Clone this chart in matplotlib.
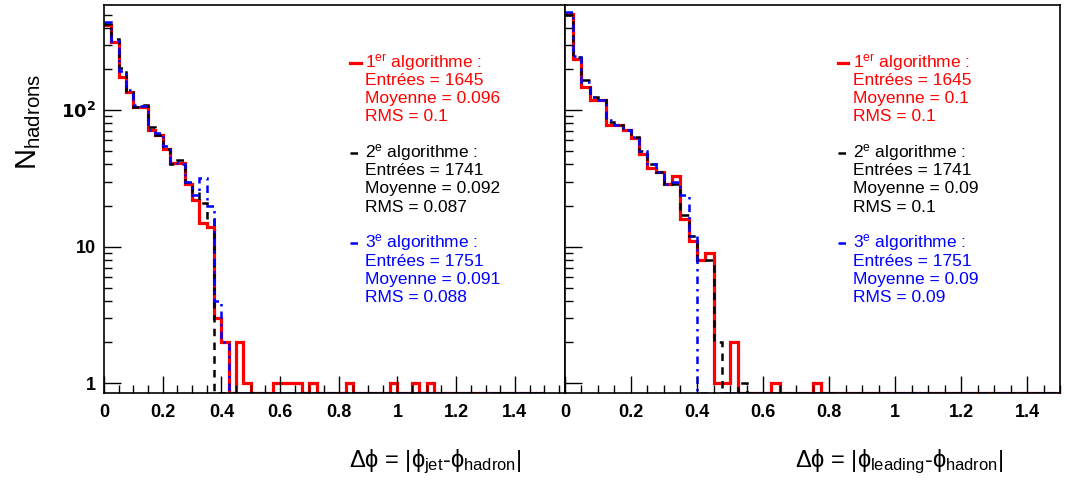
import numpy as np
import matplotlib
matplotlib.use("Agg")
import matplotlib.pyplot as plt
from matplotlib.lines import Line2D
from matplotlib.ticker import FixedLocator, NullFormatter, MultipleLocator

plt.rcParams["font.family"] = ["Liberation Sans", "DejaVu Sans"]
plt.rcParams["mathtext.fontset"] = "custom"
plt.rcParams["mathtext.rm"] = "Liberation Sans"
plt.rcParams["mathtext.it"] = "Liberation Sans"

# ---------------------- données (bins de 0.025) ----------------------
bin_width = 0.025
n_bins = 60

# panneau gauche : jet
jet_algo1 = [420, 316, 175, 136, 105, 105, 71, 66, 52, 41, 41, 29, 22, 15, 14, 3, 2, 0, 2, 1,
             0, 0, 0, 1, 1, 1, 1, 0, 1, 0, 0, 0, 0, 1, 0, 0, 0, 0, 0, 1,
             0, 0, 1, 0, 1, 0, 0, 0, 0, 0, 0, 0, 0, 0, 0, 0, 0, 0, 0, 0]
jet_algo2 = [430, 330, 203, 136, 105, 110, 75, 66, 52, 40, 43, 30, 25, 21, 16, 0, 0, 0, 0, 0] + [0] * 40
jet_algo3 = [445, 320, 195, 140, 110, 108, 72, 68, 55, 42, 40, 30, 24, 32, 20, 4, 2, 0, 0, 0] + [0] * 40

# panneau droit : particule leading
lead_algo1 = [511, 239, 148, 118, 118, 78, 78, 71, 63, 48, 38, 35, 29, 33, 16, 11, 8, 9, 1, 1,
              2, 0, 0, 0, 0, 1, 0, 0, 0, 0, 1] + [0] * 29
lead_algo2 = [500, 245, 166, 125, 118, 82, 78, 71, 64, 50, 40, 35, 29, 29, 17, 12, 8, 8, 2, 0,
              0, 1] + [0] * 38
lead_algo3 = [520, 250, 160, 125, 118, 85, 78, 71, 64, 50, 40, 35, 29, 30, 24, 12] + [0] * 44

# statistiques affichées
stats_jet = [("1645", "0.096", "0.1"), ("1741", "0.092", "0.087"), ("1751", "0.091", "0.088")]
stats_lead = [("1645", "0.1", "0.1"), ("1741", "0.09", "0.1"), ("1751", "0.09", "0.09")]
algo_names = [r"1$^{\rm er}$ algorithme :", r"2$^{\rm e}$ algorithme :", r"3$^{\rm e}$ algorithme :"]

colors = ["#ff0000", "#000000", "#0000ff"]
styles = [dict(lw=2.3, ls="-"), dict(lw=1.8, ls=(0, (3, 2.5))), dict(lw=1.8, ls=(0, (3, 2, 1, 2)))]

YMIN, YMAX = 0.845, 590
edges = np.arange(n_bins + 1) * bin_width


def draw_panel(ax, series, xmax, show_ylabels):
    for vals, c, st in zip(series, colors, styles):
        v = np.maximum(np.array(vals, dtype=float), YMIN)
        ax.stairs(v, edges, baseline=None, color=c, **st)
    ax.set_yscale("log")
    ax.set_ylim(YMIN, YMAX)
    ax.set_xlim(0, xmax)
    ax.xaxis.set_major_locator(MultipleLocator(0.2))
    ax.xaxis.set_minor_locator(MultipleLocator(0.05))
    ax.yaxis.set_major_locator(FixedLocator([1, 10, 100]))
    ax.yaxis.set_minor_locator(FixedLocator([k * 10 ** e for e in range(3) for k in range(2, 10)]))
    ax.yaxis.set_minor_formatter(NullFormatter())
    ax.tick_params(which="both", direction="in", top=False, right=False)
    ax.tick_params(which="major", length=12, width=1)
    ax.tick_params(which="minor", length=6, width=1)
    ax.tick_params(axis="x", labelsize=13, pad=8)
    ax.tick_params(axis="y", labelsize=13, pad=6)
    ax.set_xticks([0, 0.2, 0.4, 0.6, 0.8, 1.0, 1.2, 1.4])
    ax.set_xticklabels(["0", "0.2", "0.4", "0.6", "0.8", "1", "1.2", "1.4"], fontweight="bold")
    if show_ylabels:
        ax.set_yticklabels(["1", "10", r"$\mathbf{10^2}$"], fontweight="bold")
    else:
        ax.set_yticklabels([])
    for s in ax.spines.values():
        s.set_linewidth(1.2)


def draw_stats(fig, x0, y0, stats):
    dy = 0.0375
    for i, (name, (n, mean, rms)) in enumerate(zip(algo_names, stats)):
        ytop = y0 - i * 0.187
        lines = [name, f"Entrées = {n}", f"Moyenne = {mean}", f"RMS = {rms}"]
        for j, txt in enumerate(lines):
            fig.text(x0, ytop - j * dy, txt, color=colors[i], fontsize=12.5, va="center", ha="left")
        fig.add_artist(Line2D([x0 - 0.014, x0 - 0.004], [ytop, ytop], color=colors[i],
                              transform=fig.transFigure, **styles[i]))


fig = plt.figure(figsize=(10.67, 4.82), dpi=100)
ax1 = fig.add_axes([0.0975, 0.1846, 0.4320, 0.8050])
ax2 = fig.add_axes([0.5295, 0.1846, 0.4640, 0.8050])

draw_panel(ax1, [jet_algo1, jet_algo2, jet_algo3], np.pi / 2, True)
draw_panel(ax2, [lead_algo1, lead_algo2, lead_algo3], 1.50, False)

draw_stats(fig, 0.342, 0.870, stats_jet)
draw_stats(fig, 0.799, 0.870, stats_lead)

fig.text(0.027, 0.747, r"N$_{\rm hadrons}$", rotation=90, fontsize=21, va="center", ha="center")
fig.text(0.327, 0.030, r"$\Delta\phi$ = |$\phi_{\rm jet}$-$\phi_{\rm hadron}$|", fontsize=17, ha="left")
fig.text(0.745, 0.030, r"$\Delta\phi$ = |$\phi_{\rm leading}$-$\phi_{\rm hadron}$|", fontsize=17, ha="left")

fig.savefig("out.png", dpi=100)
